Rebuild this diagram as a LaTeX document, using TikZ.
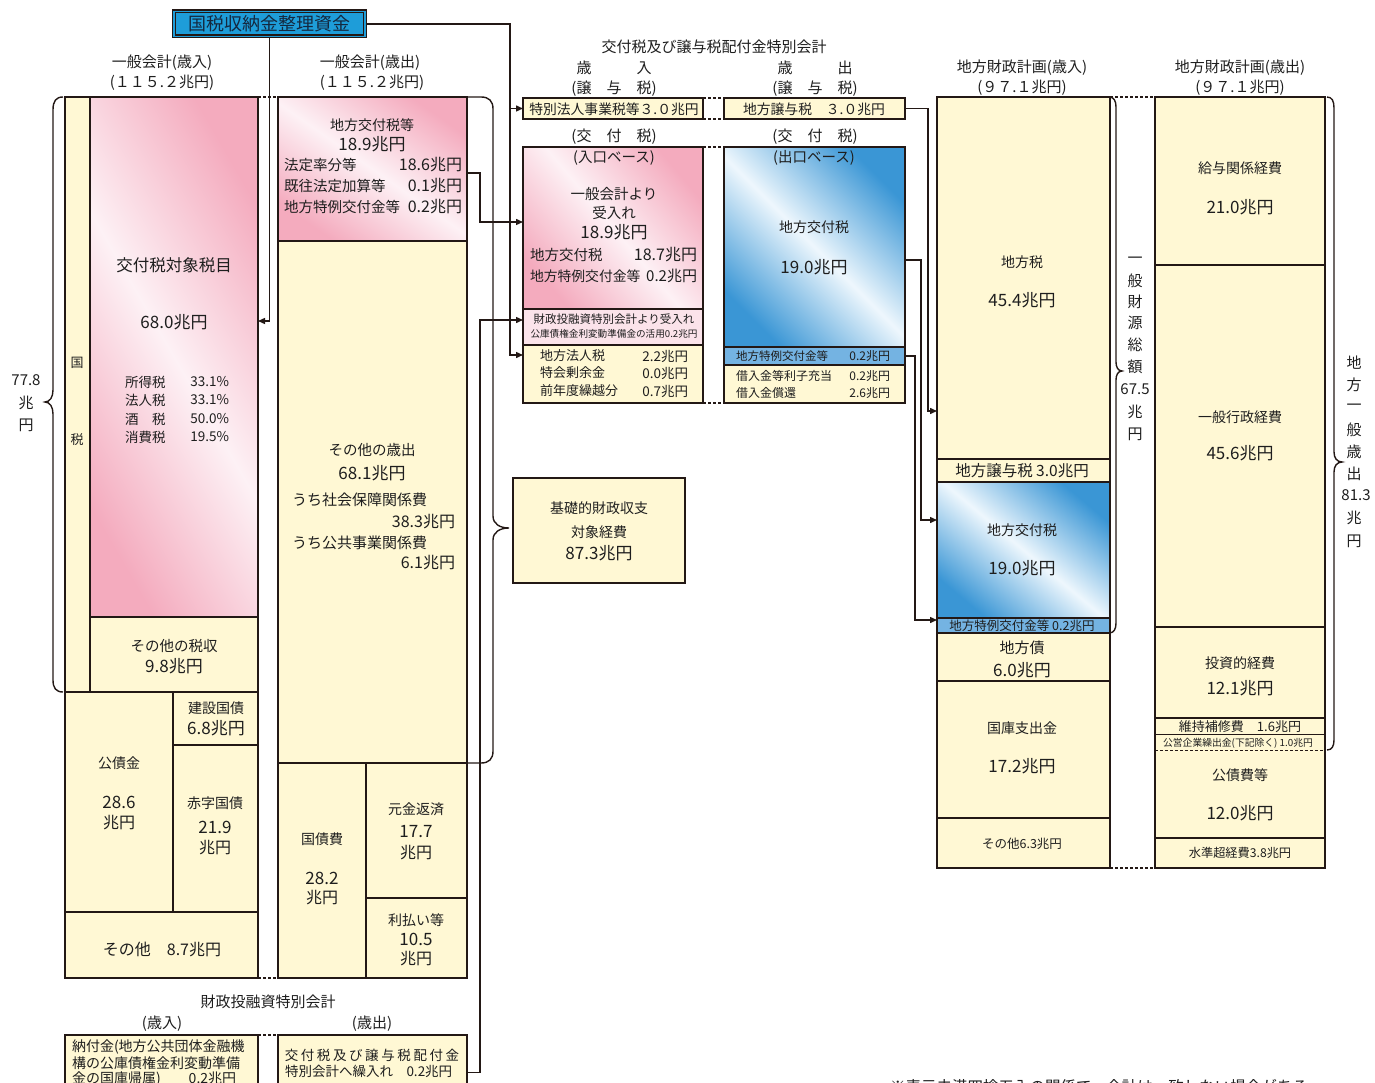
\documentclass[tikz,border=0pt]{standalone}
\usepackage{fontspec}
\setmainfont{Noto Sans CJK JP}
\usetikzlibrary{arrows.meta}
\definecolor{ln}{HTML}{231815}
\definecolor{txc}{HTML}{1E1E1E}
\definecolor{kt}{HTML}{14283F}
\definecolor{yel}{HTML}{FFF8D4}
\definecolor{pk}{HTML}{F4ABBE}
\definecolor{pkw}{HTML}{FDF1F5}
\definecolor{lpk}{HTML}{FBE3EA}
\definecolor{bl}{HTML}{3A96D5}
\definecolor{blw}{HTML}{EEF7FD}
\definecolor{mbl}{HTML}{74B3E2}
\definecolor{kbl}{HTML}{1E9DD9}
\newcommand\bx[6][]{\node[#1, minimum width={(#5-#3)*1pt}, minimum height={(#6-#4)*1pt}] (#2) at (#3,#4) {};}
\tikzset{
  fs/.style={font=\fontsize{#1}{#1}\selectfont},
  tx/.style={text=txc, inner sep=0pt, outer sep=0pt},
  cellbox/.style={draw=ln, line width=1.1pt, fill=yel, inner sep=0pt, outer sep=0pt, anchor=north west},
  fillonly/.style={fill=yel, inner sep=0pt, outer sep=0pt, anchor=north west},
  bframe/.style={draw=ln, line width=2.4pt, inner sep=0pt, outer sep=0pt, anchor=north west},
  thickcell/.style={cellbox, line width=2.4pt},
  pinkshine/.style={top color=pk, bottom color=pk, middle color=pkw, shading angle=#1},
  blueshine/.style={top color=bl, bottom color=bl, middle color=blw, shading angle=#1},
  conn/.style={draw=ln, line width=1.4pt},
  arr/.style={conn, -{Triangle[length=7pt,width=6pt]}},
  dsh/.style={draw=ln, line width=1.3pt, dash pattern=on 3pt off 2pt},
  kbox/.style={draw=ln, line width=1.3pt, double=kbl, double distance=1.4pt, fill=kbl, minimum width=191pt, minimum height=25pt, inner sep=0pt, text=kt, fs=18},
}
\begin{document}
\begin{tikzpicture}[x=1pt,y=-1pt]
\useasboundingbox (0,0) rectangle (1375,1083);
\clip (0,0) rectangle (1375,1083);

% ---------- general account revenue ----------
\bx[cellbox]{Lstrip}{65}{97}{90}{692}
\bx[cellbox,pinkshine=-60]{Lpink}{90}{97}{258}{617}
\bx[cellbox]{Lother}{90}{617}{258}{692}
\bx[cellbox]{Lbond}{65}{692}{173}{912}
\bx[cellbox]{Lcons}{173}{692}{258}{745}
\bx[cellbox]{Ldef}{173}{745}{258}{912}
\bx[cellbox]{Lrest}{65}{912}{258}{978}
\bx[bframe]{Lframe}{65}{97}{258}{978}

% ---------- general account expenditure ----------
\bx[cellbox,pinkshine=-35]{Mpink}{278}{97}{467}{241}
\bx[cellbox]{Mother}{278}{241}{467}{763}
\bx[cellbox]{Mdebt}{278}{763}{366}{978}
\bx[cellbox]{Mprin}{366}{763}{467}{898}
\bx[cellbox]{Mint}{366}{898}{467}{978}
\bx[bframe]{Mframe}{278}{97}{467}{978}

% ---------- special account ----------
\bx[thickcell]{Stok}{523}{98}{703}{119}
\bx[thickcell]{Syield}{724}{98}{905}{119}
\bx[cellbox,pinkshine=-50]{Spink}{523}{147}{703}{309}
\bx[cellbox,fill=lpk]{Sfilp}{523}{309}{703}{345}
\bx[cellbox]{Syel}{523}{345}{703}{403}
\bx[bframe]{Sin}{523}{147}{703}{403}
\bx[cellbox,blueshine=-45]{Sblue}{724}{147}{905}{347}
\bx[cellbox,fill=mbl]{Sband}{724}{347}{905}{365}
\bx[cellbox]{Syel2}{724}{365}{905}{403}
\bx[bframe]{Sout}{724}{147}{905}{403}

\bx[thickcell]{PB}{513}{478}{685}{583}

% ---------- local revenue ----------
\bx[cellbox]{Rtax}{937}{97}{1110}{459}
\bx[cellbox]{Rjoy}{937}{459}{1110}{482}
\bx[cellbox,blueshine=-40]{Rkofu}{937}{482}{1110}{618}
\bx[cellbox,fill=mbl]{Rtok}{937}{618}{1110}{633}
\bx[cellbox]{Rbond}{937}{633}{1110}{681}
\bx[cellbox]{Rsub}{937}{681}{1110}{818}
\bx[cellbox]{Roth}{937}{818}{1110}{868}
\bx[bframe]{Rframe}{937}{97}{1110}{868}

% ---------- local expenditure ----------
\bx[cellbox]{Epay}{1155}{97}{1325}{265}
\bx[cellbox]{Egen}{1155}{265}{1325}{627}
\bx[cellbox]{Einv}{1155}{627}{1325}{718}
\bx[cellbox]{Emnt}{1155}{718}{1325}{735}
\bx[fillonly]{Epub}{1155}{735}{1325}{750}
\bx[fillonly]{Edebt}{1155}{750}{1325}{838}
\bx[cellbox]{Eexc}{1155}{838}{1325}{868}
\draw[dsh, line width=1pt] (Epub.south west) -- (Epub.south east);
\bx[bframe]{Eframe}{1155}{97}{1325}{868}

% ---------- FILP ----------
\bx[thickcell]{Bin}{65}{1035}{258}{1110}
\bx[thickcell]{Bout}{278}{1035}{467}{1110}

% ---------- top box ----------
\node[kbox] (koku) at (269.5,24) {国税収納金整理資金};

% ---------- dashed links ----------
\draw[dsh] (Lframe.north east) -- (Mframe.north west);
\draw[dsh] (Lframe.south east) -- (Mframe.south west);
\draw[dsh] (Bin.north east) -- (Bout.north west);
\draw[dsh] (Stok.north east) -- (Syield.north west);
\draw[dsh] (Stok.south east) -- (Syield.south west);
\draw[dsh] (Sin.north east) -- (Sout.north west);
\draw[dsh] (Sin.south east) -- (Sout.south west);
\draw[dsh] (Rframe.north east) -- (Eframe.north west);
\draw[dsh] (Rframe.south east) -- (Eframe.south west);

% ---------- connectors ----------
\coordinate (j1) at (510,108.5);
\draw[arr] (koku.south) |- (Lpink.east |- 0,321);
\draw[arr] (koku.east) -| (j1) -- (Stok.west);
\draw[arr] (j1) |- (Syel.west |- 0,355);
\draw[arr] (Mpink.east |- 0,173) -| (480,222) -- (Spink.west |- 0,222);
\draw[arr] (Bout.east) -| (480,320) -- (Sfilp.west |- 0,320);
\draw[arr] (Syield.east) -| (928,411) -- (Rtax.west |- 0,411);
\draw[arr] (Sblue.east |- 0,260) -| (921,520) -- (Rkofu.west |- 0,520);
\draw[arr] (Sband.east) -| (915,620) -- (Rtok.west |- 0,620);

% ---------- braces ----------
\draw[conn] (63,97) .. controls (56,97) and (53,101) .. (53,110) -- (53,390) .. controls (53,397) and (50,402) .. (45,402) .. controls (50,402) and (53,407) .. (53,414) -- (53,680) .. controls (53,688) and (56,692) .. (63,692);
\draw[conn] (467,97) -- (481,97) .. controls (489,97) and (493,101) .. (493,109) -- (493,516) .. controls (493,524) and (500,528) .. (509,528) .. controls (500,528) and (493,532) .. (493,540) -- (493,751) .. controls (493,759) and (489,763) .. (481,763) -- (467,763);
\draw[conn] (1109,97) .. controls (1114,97) and (1116,101) .. (1116,107) -- (1116,362) .. controls (1116,367) and (1118,371) .. (1122,371) .. controls (1118,371) and (1116,375) .. (1116,380) -- (1116,623) .. controls (1116,629) and (1114,633) .. (1109,633);
\draw[conn] (1327,97) .. controls (1332,97) and (1334,101) .. (1334,108) -- (1334,452) .. controls (1334,458) and (1337,462) .. (1342,462) .. controls (1337,462) and (1334,466) .. (1334,472) -- (1334,740) .. controls (1334,746) and (1332,750) .. (1327,750);

% ---------- headings ----------
\node[tx,fs=15] (hL1) at (162,63) {一般会計(歳入)};
\node[tx,fs=15] (hL2) at (162,83) {(１１５.２兆円)};
\node[tx,fs=15] (hM1) at (370,63) {一般会計(歳出)};
\node[tx,fs=15] (hM2) at (372,83) {(１１５.２兆円)};
\node[tx,fs=15] (hS) at (714,47) {交付税及び譲与税配付金特別会計};
\node[tx,fs=15] (hS1) at (614,68) {歳　　　入};
\node[tx,fs=15] (hS2) at (614,89) {(譲　与　税)};
\node[tx,fs=15] (hS3) at (815,68) {歳　　　出};
\node[tx,fs=15] (hS4) at (815,89) {(譲　与　税)};
\node[tx,fs=15] (hS5) at (614,137) {(交　付　税)};
\node[tx,fs=15] (hS6) at (815,137) {(交　付　税)};
\node[tx,fs=15] (hR1) at (1022,68) {地方財政計画(歳入)};
\node[tx,fs=15] (hR2) at (1022,88) {(９７.１兆円)};
\node[tx,fs=15] (hE1) at (1240,68) {地方財政計画(歳出)};
\node[tx,fs=15] (hE2) at (1240,88) {(９７.１兆円)};
\node[tx,fs=15] (hB) at (268,1002) {財政投融資特別会計};
\node[tx,fs=15] (hB1) at (162,1024) {(歳入)};
\node[tx,fs=15] (hB2) at (372,1024) {(歳出)};

% ---------- left column texts ----------
\node[tx,fs=15] (v77a) at (26,380) {77.8};
\node[tx,fs=15] (v77b) at (26,403) {兆};
\node[tx,fs=15] (v77c) at (26,425) {円};
\node[tx,fs=13] (kz1) at (77,363) {国};
\node[tx,fs=13] (kz2) at (77,440) {税};
\node[tx,fs=16.5] (L1) at (174,265) {交付税対象税目};
\node[tx,fs=17] (L2) at (174,322) {68.0兆円};
\node[tx,fs=13.5,anchor=west] (L3a) at (125,382) {所得税};
\node[tx,fs=13.5,anchor=east] (L3b) at (229,382) {33.1\%};
\node[tx,fs=13.5,anchor=west] (L4a) at (125,400) {法人税};
\node[tx,fs=13.5,anchor=east] (L4b) at (229,400) {33.1\%};
\node[tx,fs=13.5,anchor=west] (L5a) at (125,419) {酒　税};
\node[tx,fs=13.5,anchor=east] (L5b) at (229,419) {50.0\%};
\node[tx,fs=13.5,anchor=west] (L6a) at (125,437) {消費税};
\node[tx,fs=13.5,anchor=east] (L6b) at (229,437) {19.5\%};
\node[tx,fs=14.5] (L7) at (174,646) {その他の税収};
\node[tx,fs=17] (L8) at (174,666) {9.8兆円};
\node[tx,fs=14] (L9) at (216,708) {建設国債};
\node[tx,fs=17] (L10) at (216,728) {6.8兆円};
\node[tx,fs=14] (L11) at (119,763) {公債金};
\node[tx,fs=17] (L12) at (119,802) {28.6};
\node[tx,fs=16] (L13) at (119,823) {兆円};
\node[tx,fs=14] (L14) at (215,803) {赤字国債};
\node[tx,fs=17] (L15) at (215,827) {21.9};
\node[tx,fs=16] (L16) at (215,848) {兆円};
\node[tx,fs=16] (L17) at (162,949) {その他　8.7兆円};

% ---------- middle column texts ----------
\node[tx,fs=14] (M1) at (372,125) {地方交付税等};
\node[tx,fs=17] (M2) at (372,144) {18.9兆円};
\node[tx,fs=14.5,anchor=west] (M3a) at (284,165) {法定率分等};
\node[tx,fs=16,anchor=east] (M3b) at (462,165) {18.6兆円};
\node[tx,fs=14.5,anchor=west] (M4a) at (284,186) {既往法定加算等};
\node[tx,fs=16,anchor=east] (M4b) at (462,186) {0.1兆円};
\node[tx,fs=14.5,anchor=west] (M5a) at (284,207) {地方特例交付金等};
\node[tx,fs=16,anchor=east] (M5b) at (462,207) {0.2兆円};
\node[tx,fs=14.5] (M6) at (372,450) {その他の歳出};
\node[tx,fs=17] (M7) at (372,473) {68.1兆円};
\node[tx,fs=15,anchor=west] (M8) at (292,500) {うち社会保障関係費};
\node[tx,fs=16,anchor=east] (M9) at (455,522) {38.3兆円};
\node[tx,fs=15,anchor=west] (M10) at (292,543) {うち公共事業関係費};
\node[tx,fs=16,anchor=east] (M11) at (455,563) {6.1兆円};
\node[tx,fs=14] (M12) at (322,839) {国債費};
\node[tx,fs=17] (M13) at (322,878) {28.2};
\node[tx,fs=16] (M14) at (322,898) {兆円};
\node[tx,fs=14] (M15) at (416,809) {元金返済};
\node[tx,fs=17] (M16) at (416,832) {17.7};
\node[tx,fs=16] (M17) at (416,853) {兆円};
\node[tx,fs=14] (M18) at (416,920) {利払い等};
\node[tx,fs=17] (M19) at (416,939) {10.5};
\node[tx,fs=16] (M20) at (416,959) {兆円};

% ---------- special account texts ----------
\node[tx,fs=13.8] (S1) at (614,109) {特別法人事業税等３.０兆円};
\node[tx,fs=13.8] (S2) at (814,109) {地方譲与税　３.０兆円};
\node[tx,fs=14.5] (S3) at (614,158) {(入口ベース)};
\node[tx,fs=14.5] (S4) at (614,194) {一般会計より};
\node[tx,fs=14.5] (S5) at (614,213) {受入れ};
\node[tx,fs=17] (S6) at (614,232) {18.9兆円};
\node[tx,fs=14.5,anchor=west] (S7a) at (530,255) {地方交付税};
\node[tx,fs=16,anchor=east] (S7b) at (697,255) {18.7兆円};
\node[tx,fs=13.8,anchor=west] (S8a) at (530,276) {地方特例交付金等};
\node[tx,fs=15,anchor=east] (S8b) at (697,276) {0.2兆円};
\node[tx,fs=11.5] (S9) at (614,319) {財政投融資特別会計より受入れ};
\node[tx,fs=9.6] (S10) at (614,334) {公庫債権金利変動準備金の活用0.2兆円};
\node[tx,fs=13,anchor=west] (S11a) at (540,356) {地方法人税};
\node[tx,fs=13.5,anchor=east] (S11b) at (688,356) {2.2兆円};
\node[tx,fs=13,anchor=west] (S12a) at (540,373) {特会剰余金};
\node[tx,fs=13.5,anchor=east] (S12b) at (688,373) {0.0兆円};
\node[tx,fs=13,anchor=west] (S13a) at (540,391) {前年度繰越分};
\node[tx,fs=13.5,anchor=east] (S13b) at (688,391) {0.7兆円};
\node[tx,fs=14.5] (S14) at (814,158) {(出口ベース)};
\node[tx,fs=14] (S15) at (814,227) {地方交付税};
\node[tx,fs=17] (S16) at (814,267) {19.0兆円};
\node[tx,fs=11.5,anchor=west] (S17a) at (736,356) {地方特例交付金等};
\node[tx,fs=12,anchor=east] (S17b) at (890,356) {0.2兆円};
\node[tx,fs=12,anchor=west] (S18a) at (736,376) {借入金等利子充当};
\node[tx,fs=12,anchor=east] (S18b) at (890,376) {0.2兆円};
\node[tx,fs=12,anchor=west] (S19a) at (736,393) {借入金償還};
\node[tx,fs=12,anchor=east] (S19b) at (890,393) {2.6兆円};

\node[tx,fs=14] (P1) at (599,508) {基礎的財政収支};
\node[tx,fs=14] (P2) at (599,532) {対象経費};
\node[tx,fs=17] (P3) at (599,553) {87.3兆円};

% ---------- local revenue texts ----------
\node[tx,fs=14] (R1) at (1022,262) {地方税};
\node[tx,fs=17] (R2) at (1022,300) {45.4兆円};
\node[tx,fs=15.5] (R3) at (1022,471) {地方譲与税 3.0兆円};
\node[tx,fs=14] (R4) at (1022,530) {地方交付税};
\node[tx,fs=17] (R5) at (1022,568) {19.0兆円};
\node[tx,fs=12.5] (R6) at (1022,626) {地方特例交付金等 0.2兆円};
\node[tx,fs=15] (R7) at (1022,648) {地方債};
\node[tx,fs=17] (R8) at (1022,670) {6.0兆円};
\node[tx,fs=14] (R9) at (1022,728) {国庫支出金};
\node[tx,fs=17] (R10) at (1022,766) {17.2兆円};
\node[tx,fs=12.5] (R11) at (1022,844) {その他6.3兆円};

\node[tx,fs=15] (g1) at (1135,260) {一};
\node[tx,fs=15] (g2) at (1135,281) {般};
\node[tx,fs=15] (g3) at (1135,302) {財};
\node[tx,fs=15] (g4) at (1135,323) {源};
\node[tx,fs=15] (g5) at (1135,345) {総};
\node[tx,fs=15] (g6) at (1135,367) {額};
\node[tx,fs=15] (g7) at (1135,389) {67.5};
\node[tx,fs=15] (g8) at (1135,412) {兆};
\node[tx,fs=15] (g9) at (1135,434) {円};

% ---------- local expenditure texts ----------
\node[tx,fs=14] (E1) at (1240,168) {給与関係経費};
\node[tx,fs=17] (E2) at (1240,207) {21.0兆円};
\node[tx,fs=14] (E3) at (1240,417) {一般行政経費};
\node[tx,fs=17] (E4) at (1240,453) {45.6兆円};
\node[tx,fs=14] (E5) at (1240,663) {投資的経費};
\node[tx,fs=17] (E6) at (1240,688) {12.1兆円};
\node[tx,fs=13] (E7) at (1240,727) {維持補修費　1.6兆円};
\node[tx,fs=9.8] (E8) at (1238,743) {公営企業繰出金(下記除く) 1.0兆円};
\node[tx,fs=14] (E9) at (1240,775) {公債費等};
\node[tx,fs=17] (E10) at (1240,813) {12.0兆円};
\node[tx,fs=12.2] (E11) at (1240,853) {水準超経費3.8兆円};

\node[tx,fs=15] (h1) at (1354,363) {地};
\node[tx,fs=15] (h2) at (1354,385) {方};
\node[tx,fs=15] (h3) at (1354,407) {一};
\node[tx,fs=15] (h4) at (1354,430) {般};
\node[tx,fs=15] (h5) at (1354,452) {歳};
\node[tx,fs=15] (h6) at (1354,474) {出};
\node[tx,fs=15] (h7) at (1356,495) {81.3};
\node[tx,fs=15] (h8) at (1354,518) {兆};
\node[tx,fs=15] (h9) at (1354,541) {円};

% ---------- FILP texts ----------
\node[tx,fs=14,anchor=west] (B1) at (72,1047) {納付金(地方公共団体金融機};
\node[tx,fs=14,anchor=west] (B2) at (72,1063) {構の公庫債権金利変動準備};
\node[tx,fs=14,anchor=west] (B3) at (72,1079) {金の国庫帰属)　　0.2兆円};
\node[tx,fs=13.5] (B4) at (372,1055) {交\kern2.6pt 付\kern2.6pt 税\kern2.6pt 及\kern2.6pt び\kern2.6pt 譲\kern2.6pt 与\kern2.6pt 税\kern2.6pt 配\kern2.6pt 付\kern2.6pt 金};
\node[tx,fs=13.5,anchor=west] (B5) at (285,1071) {特別会計へ繰入れ　0.2兆円};

\node[tx,fs=15.5,anchor=west] (foot) at (890,1087) {※表示未満四捨五入の関係で、合計は一致しない場合がある。};
\end{tikzpicture}
\end{document}
